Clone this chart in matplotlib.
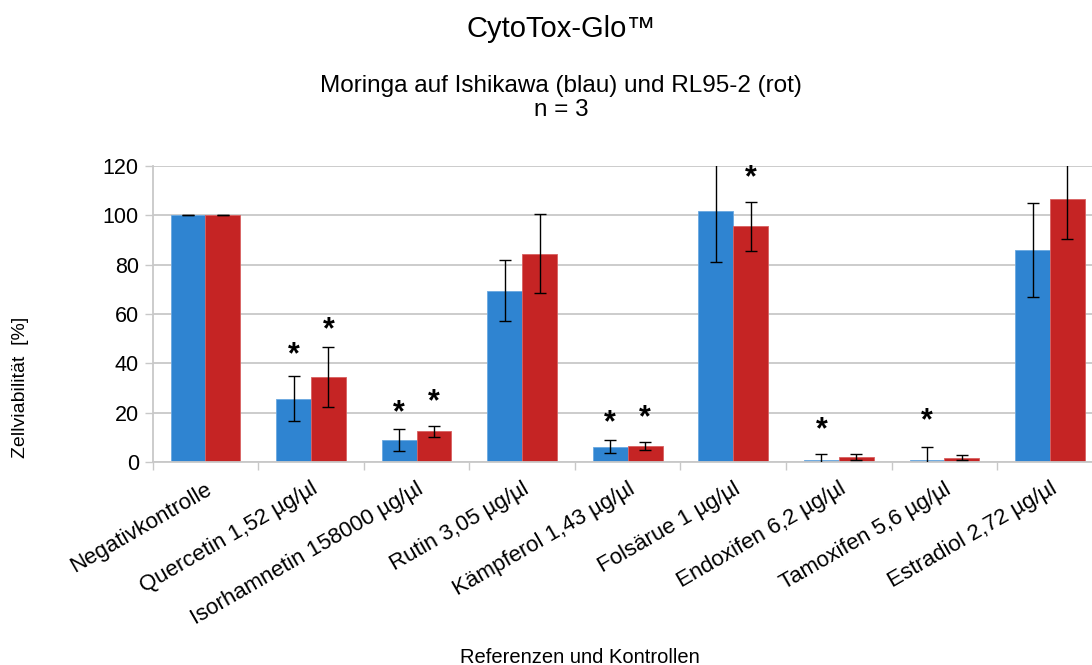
import numpy as np
import matplotlib
matplotlib.use("Agg")
import matplotlib.pyplot as plt

plt.rcParams['font.family'] = ['Liberation Sans', 'DejaVu Sans']

# data
categories = ["Negativkontrolle", "Quercetin 1,52 µg/µl", "Isorhamnetin 158000 µg/µl",
              "Rutin 3,05 µg/µl", "Kämpferol 1,43 µg/µl", "Folsärue 1 µg/µl",
              "Endoxifen 6,2 µg/µl", "Tamoxifen 5,6 µg/µl", "Estradiol 2,72 µg/µl"]
ishikawa = [100, 25.7, 8.8, 69.5, 6.2, 101.7, 1.0, 1.0, 86.0]
ishikawa_err = [0, 9.2, 4.4, 12.5, 2.7, 20.5, 2.4, 5.1, 19.0]
rl95 = [100, 34.5, 12.4, 84.5, 6.6, 95.5, 2.2, 1.8, 106.6]
rl95_err = [0, 12.1, 2.1, 16.1, 1.6, 10.0, 1.2, 1.1, 16.2]
# heights of the significance stars (None = no star)
star_blue = [None, 43.2, 19.7, None, 15.7, None, 12.8, 16.6, None]
star_red = [None, 53.4, 24.3, None, 17.7, 115.0, None, None, None]

blue = '#2f84d1'
red = '#c52424'
grid_col = '#c8c8c8'

fig = plt.figure(figsize=(10.92, 6.65), dpi=100)
ax = fig.add_axes([0.1398, 0.3053, 0.870, 0.4451])

x = np.arange(len(categories))
w = 0.33
ax.bar(x - w / 2, ishikawa, w, color=blue, edgecolor='#6aa8e0', linewidth=0.6, zorder=2)
ax.bar(x + w / 2, rl95, w, color=red, edgecolor='#d86060', linewidth=0.6, zorder=2)
ax.errorbar(x - w / 2, ishikawa, yerr=ishikawa_err, fmt='none', ecolor='black',
            elinewidth=1, capsize=4.5, capthick=1, zorder=3)
ax.errorbar(x + w / 2, rl95, yerr=rl95_err, fmt='none', ecolor='black',
            elinewidth=1, capsize=4.5, capthick=1, zorder=3)

for i in range(len(categories)):
    if star_blue[i] is not None:
        ax.text(x[i] - w / 2, star_blue[i], '*', ha='center', va='center',
                fontsize=22, fontweight='bold', zorder=4)
    if star_red[i] is not None:
        ax.text(x[i] + w / 2, star_red[i], '*', ha='center', va='center',
                fontsize=22, fontweight='bold', zorder=4)

ax.set_ylim(0, 120)
ax.set_xlim(-0.5, len(categories) - 0.5)
ax.set_yticks(np.arange(0, 121, 20))
ax.yaxis.grid(True, color=grid_col, linewidth=1.3, zorder=0)
ax.set_axisbelow(True)

ax.set_xticks(x)
ax.set_xticklabels(categories, rotation=30, ha='right', va='top',
                   rotation_mode='anchor', fontsize=16)
ax.set_xticks(np.arange(-0.5, len(categories) + 0.5, 1), minor=True)
ax.tick_params(axis='x', which='major', length=0, pad=12)
ax.tick_params(axis='x', which='minor', length=6, color=grid_col, width=1)
ax.tick_params(axis='y', length=6, color=grid_col, width=1, labelsize=15.5, pad=4)

for s in ['top', 'right']:
    ax.spines[s].set_visible(False)
ax.spines['left'].set_color(grid_col)
ax.spines['bottom'].set_color(grid_col)
ax.spines['left'].set_linewidth(1.3)
ax.spines['bottom'].set_linewidth(1.3)

fig.text(0.514, 0.956, 'CytoTox-Glo™', ha='center', va='center', fontsize=21)
fig.text(0.514, 0.853, 'Moringa auf Ishikawa (blau) und RL95-2 (rot)\nn = 3',
         ha='center', va='center', fontsize=17.5, linespacing=1.1)
fig.text(0.019, 0.418, 'Zellviabilität  [%]', rotation=90, ha='center', va='center',
         fontsize=14)
fig.text(0.531, 0.012, 'Referenzen und Kontrollen', ha='center', va='center', fontsize=14.5)

fig.savefig('out.png', dpi=100)
